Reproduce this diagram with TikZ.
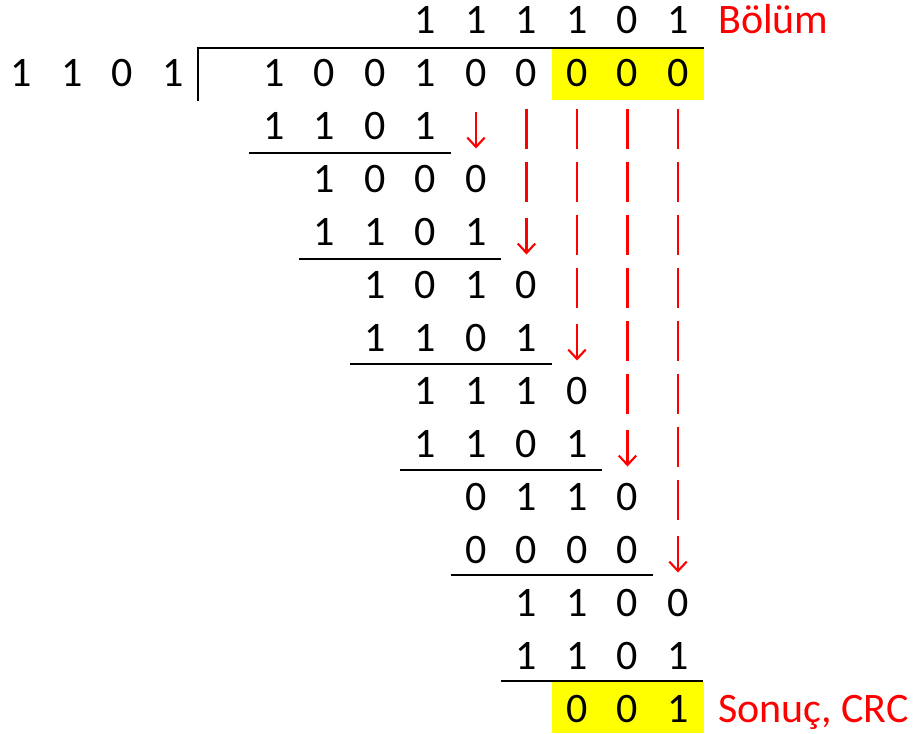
\documentclass[tikz,border=0pt]{standalone}
\usepackage{fontspec}
\setmainfont{Carlito}
\usetikzlibrary{arrows.meta}
\definecolor{crcred}{RGB}{255,0,0}
\definecolor{hiyellow}{RGB}{255,255,0}
\begin{document}
\begin{tikzpicture}[x=0.75pt,y=-0.75pt,
  digit/.style={inner sep=0pt,anchor=base,font=\fontsize{31.5}{38}\selectfont},
  redtext/.style={inner sep=0pt,anchor=base west,text=crcred,font=\fontsize{31.5}{38}\selectfont},
  rule/.style={draw=black,line width=1.6pt},
  bar/.style={draw=crcred,line width=1.6pt},
  downarrow/.style={draw=crcred,line width=1.6pt,-{Straight Barb[length=7pt,width=13pt,line width=1.6pt]}},
  hilite/.style={fill=hiyellow,draw=none}]
\useasboundingbox (0,0) rectangle (917,733);

% highlighted appended zeros and the remainder
\path[hilite] (552,48) rectangle (704,100);
\path[hilite] (552,682) rectangle (704,733);

% division bracket
\draw[rule] (198,101) -- (198,48) -- (704,48);

% divisor
\foreach \d [count=\k from 0] in {1,1,0,1}
  \node[digit] (v-\k) at ({274+50.5*(\k-5)},{33.5+53}) {\d};

% quotient, dividend and the partial results, row by row
\foreach \r/\c/\s in {
  0/3/{1,1,1,1,0,1},
  1/0/{1,0,0,1,0,0,0,0,0},
  2/0/{1,1,0,1},
  3/1/{1,0,0,0},
  4/1/{1,1,0,1},
  5/2/{1,0,1,0},
  6/2/{1,1,0,1},
  7/3/{1,1,1,0},
  8/3/{1,1,0,1},
  9/4/{0,1,1,0},
  10/4/{0,0,0,0},
  11/5/{1,1,0,0},
  12/5/{1,1,0,1},
  13/6/{0,0,1}}
  \foreach \d [count=\k from 0] in \s
    \node[digit] (d-\r-\k) at ({274+50.5*(\c+\k)},{33.5+53*\r}) {\d};

% subtraction rules
\foreach \r/\c in {2/0,4/1,6/2,8/3,10/4,12/5}
  \draw[rule] ({274+50.5*(\c-0.5)},{153+52.8*(\r-2)}) -- ({274+50.5*(\c+3.5)},{153+52.8*(\r-2)});

% bits carried down: vertical guides
\foreach \r/\c in {2/5,3/5,4/6,5/6,6/7,7/7,8/8,9/8}
  \foreach \j in {\c,...,8}
    \draw[bar] ({274+50.5*\j},{33.5+53*\r-31}) -- ({274+50.5*\j},{33.5+53*\r+9});

% bits carried down: arrows
\foreach \r/\c in {2/4,4/5,6/6,8/7,10/8}
  \draw[downarrow] ({274+50.5*\c},{33.5+53*\r-28}) -- ({274+50.5*\c},{33.5+53*\r+9});

% labels
\node[redtext] (quot) at (718,33.5) {Bölüm};
\node[redtext] (crc) at (718,722.5) {Sonuç, CRC};
\end{tikzpicture}
\end{document}
